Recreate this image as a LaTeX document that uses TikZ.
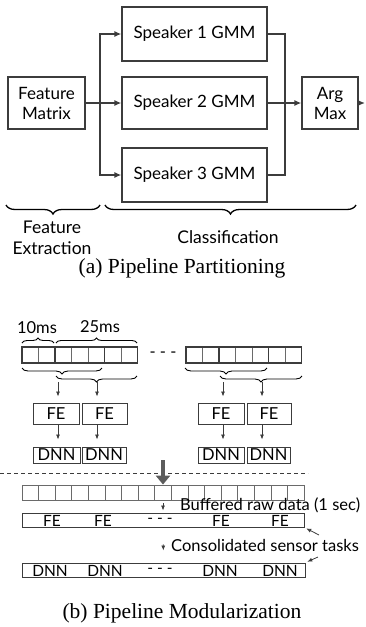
\documentclass[tikz,border=0pt]{standalone}
\usepackage{fontspec}
\setmainfont{Liberation Serif}
\newfontfamily\gillfont{Lato}
\usetikzlibrary{arrows.meta,positioning,calc,decorations.pathreplacing}

\definecolor{boxgray}{HTML}{3C3C3C}
\definecolor{cellgray}{HTML}{6A6A6A}
\definecolor{bigarrow}{HTML}{5C5C5C}

\tikzset{
  blk/.style={draw=boxgray,line width=1.3pt,align=center,inner sep=1pt,
    font=\gillfont\fontsize{17}{20}\selectfont},
  pipe/.style={draw=boxgray,line width=1.3pt},
  brc/.style={draw=black,line width=1.3pt,decorate},
  lbl/.style={align=center,inner sep=0pt,font=\gillfont\fontsize{17.5}{21}\selectfont},
  capt/.style={inner sep=0pt,font=\fontsize{21.5}{24}\selectfont},
  febox/.style={draw=boxgray,line width=0.9pt,inner sep=0pt,
    font=\gillfont\fontsize{16.5}{18}\selectfont},
  bar/.style={draw=boxgray,line width=0.9pt,inner sep=0pt,minimum height=14pt},
  txt/.style={inner sep=0pt,font=\gillfont\fontsize{16.5}{18}\selectfont},
  bartxt/.style={inner sep=0pt,font=\gillfont\fontsize{15.5}{17}\selectfont},
  cell/.style={draw=cellgray,line width=0.7pt},
  frame/.style={draw=boxgray,line width=1.4pt},
  sarr/.style={draw=boxgray,line width=0.8pt,-{Latex[length=5pt,width=4pt]}}
}

\begin{document}
\begin{tikzpicture}[x=1pt,y=-1pt,>={Latex[length=7pt,width=6pt]}]
  \useasboundingbox (0,0) rectangle (365,627);
  % (a) pipeline
  \node[blk,minimum width=77pt,minimum height=52pt] (fm) at (46.5,103) {Feature\\Matrix};
  \node[blk,minimum width=145pt,minimum height=54pt] (s1) at (194.5,34) {Speaker 1 GMM};
  \node[blk,minimum width=145pt,minimum height=52pt] (s2) at (194.5,103) {Speaker 2 GMM};
  \node[blk,minimum width=145pt,minimum height=54pt] (s3) at (194.5,175) {Speaker 3 GMM};
  \node[blk,minimum width=56pt,minimum height=52pt] (am) at (330,103) {Arg\\Max};
  \coordinate (split) at (100,103);
  \coordinate (join) at (285,103);
  \coordinate (out) at (365,103);
  \draw[pipe] (fm.east) -- (split);
  \foreach \s in {s1,s2,s3}
    \draw[pipe,->] (split) |- (\s.west);
  \foreach \s in {s1,s2,s3}
    \draw[pipe] (\s.east) -| (join);
  \draw[pipe,->] (join) -- (am.west);
  \draw[pipe,->] (am.east) -- (out);
  % braces
  \draw[brc,decoration={brace,mirror,amplitude=9pt}] (6,205) -- (100,205);
  \draw[brc,decoration={brace,mirror,amplitude=9pt}] (105,205) -- (356,205);
  \node[lbl] (fx) at (52,238) {Feature\\Extraction};
  \node[lbl] (cls) at (228,237) {Classification};
  \node[capt] (capa) at (182,268) {(a) Pipeline Partitioning};

  % (b) windows
  \node[txt] (t10) at (37,328) {10ms};
  \node[txt] (t25) at (100,327) {25ms};
  \draw[brc,line width=0.9pt,decoration={brace,amplitude=5pt}] (22,343) -- (54,343);
  \draw[brc,line width=0.9pt,decoration={brace,amplitude=5pt}] (56,343) -- (137,343);
  \foreach \x in {22,186} {
    \foreach \i in {0,...,6}
      \draw[cell] ({\x+16.5*\i},347) rectangle ++(16.5,16);
    \draw[frame] (\x,347) rectangle ++(115.5,16);
    \draw[frame] ({\x+33},347) rectangle ++(49.5,16);
  }
  \node[txt] (gap1) at (163,355) {- - -};
  \draw[brc,line width=0.9pt,decoration={brace,mirror,amplitude=6pt}] (22,368) -- (102,368);
  \draw[brc,line width=0.9pt,decoration={brace,mirror,amplitude=6pt}] (56,376) -- (137,376);
  \draw[brc,line width=0.9pt,decoration={brace,mirror,amplitude=6pt}] (185,368) -- (267,368);
  \draw[brc,line width=0.9pt,decoration={brace,mirror,amplitude=6pt}] (220,376) -- (302,376);
  \coordinate (w1) at (58,382);
  \coordinate (w2) at (97,382);
  \coordinate (w3) at (223,382);
  \coordinate (w4) at (262,382);
  % FE and DNN boxes
  \node[febox,minimum width=46pt,minimum height=21pt] (fe1) at (56,413.5) {FE};
  \node[febox,minimum width=45pt,minimum height=21pt] (fe2) at (104.5,413.5) {FE};
  \node[febox,minimum width=46pt,minimum height=21pt] (fe3) at (221,413.5) {FE};
  \node[febox,minimum width=44pt,minimum height=21pt] (fe4) at (269,413.5) {FE};
  \node[febox,minimum width=47pt,minimum height=16pt] (dnn1) at (56.5,455) {DNN};
  \node[febox,minimum width=44pt,minimum height=16pt] (dnn2) at (104,455) {DNN};
  \node[febox,minimum width=46pt,minimum height=16pt] (dnn3) at (221,455) {DNN};
  \node[febox,minimum width=43pt,minimum height=16pt] (dnn4) at (268.5,455) {DNN};
  \foreach \k in {1,2,3,4} {
    \draw[sarr,shorten >=6pt] (w\k) -- (w\k |- fe\k.north);
    \draw[sarr,shorten <=1pt,shorten >=7pt] (w\k |- fe\k.south) -- (w\k |- dnn\k.north);
  }

  % (b) consolidated
  \draw[boxgray,line width=0.8pt,dash pattern=on 4pt off 3pt] (0,473) -- (308,473);
  \node[draw=cellgray,line width=0.8pt,minimum width=282pt,minimum height=15pt,inner sep=0pt] (raw) at (163,492.5) {};
  \foreach \i in {1,...,16}
    \draw[cell] ({22+16.59*\i},485) -- ++(0,15);
  \coordinate (drop) at (163,460);
  \draw[bigarrow,line width=4.5pt,-{Triangle[length=9pt,width=14pt]}] (drop) -- (raw.north);
  \node[bar,minimum width=282pt] (febar) at (163,520) {};
  \node[bar,minimum width=283pt] (dnnbar) at (163.5,570) {};
  \foreach \x/\t in {52/FE,103/FE,160/- - -,221/FE,280/FE}
    \node[bartxt] at (\x,520.5) {\t};
  \foreach \x/\t in {50/DNN,105/DNN,160/- - -,220/DNN,280/DNN}
    \node[bartxt] at (\x,570.5) {\t};
  \draw[sarr,shorten <=3pt,shorten >=2pt] (raw.south) -- (febar.north);
  \draw[sarr,shorten <=17pt,shorten >=12pt] (febar.south) -- (dnnbar.north);
  \node[txt,anchor=west] (bufl) at (180,505) {Buffered raw data (1 sec)};
  \node[txt,anchor=west] (consl) at (171,545) {Consolidated sensor tasks};
  \coordinate (p1) at (319,535);
  \coordinate (p2) at (318,557);
  \draw[sarr,shorten >=2pt] (p1) -- (febar.south east);
  \draw[sarr,shorten >=2pt] (p2) -- (dnnbar.north east);
  \node[capt] (captb) at (182,613) {(b) Pipeline Modularization};
\end{tikzpicture}
\end{document}
